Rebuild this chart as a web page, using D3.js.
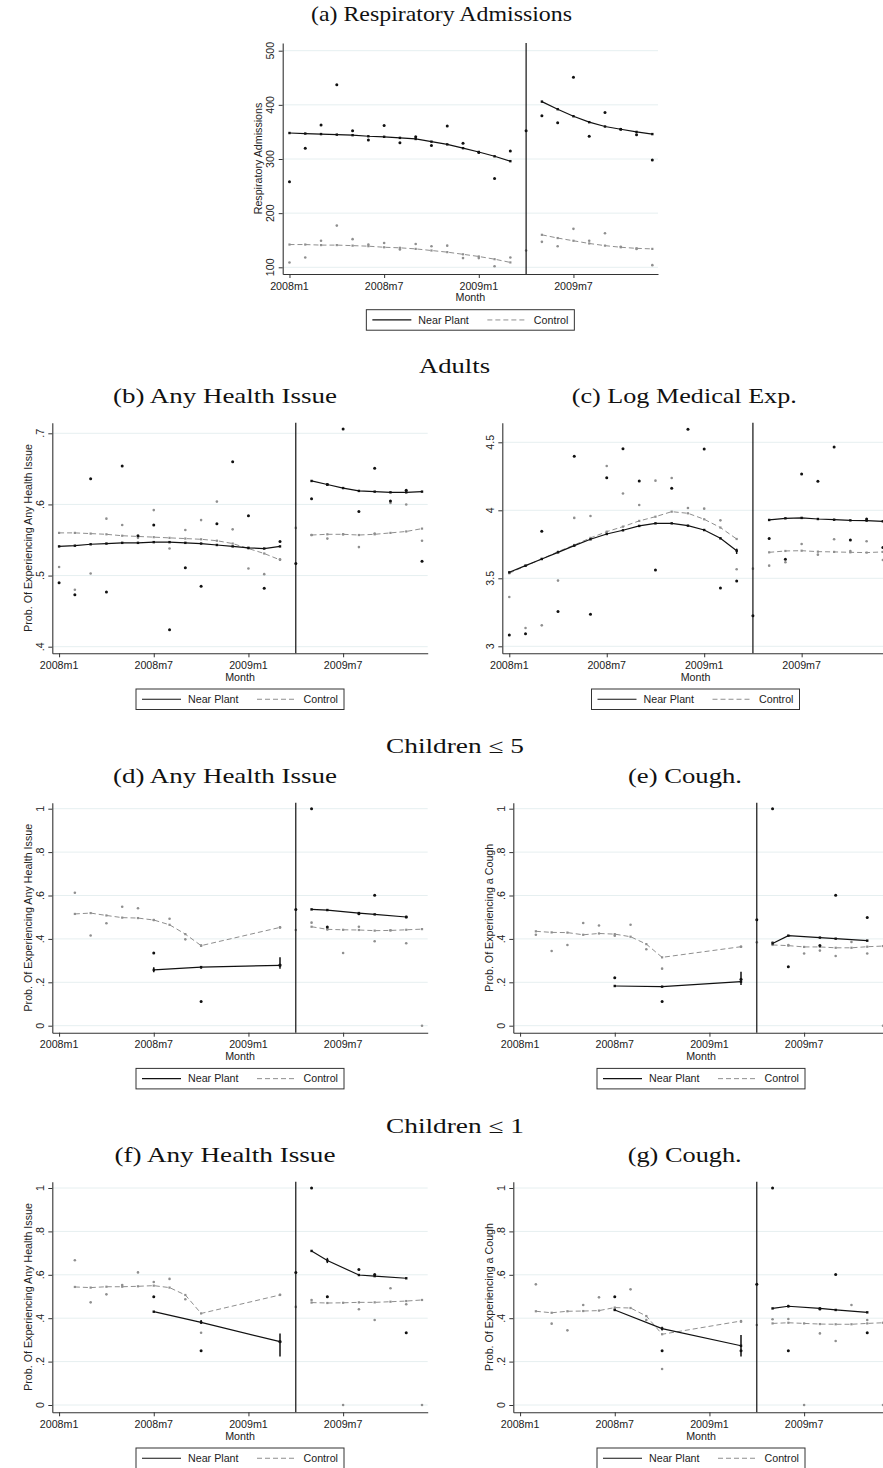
<!DOCTYPE html>
<html><head><meta charset="utf-8">
<script src="https://cdn.jsdelivr.net/npm/d3@7"></script>
<style>body{margin:0;background:#fff}</style>
</head><body>
<svg id="chart" width="883" height="1468"></svg>
<script>
// ---------- DATA ----------
const monthTickValues = [0, 6, 12, 18];
const monthTickLabels = ["2008m1", "2008m7", "2009m1", "2009m7"];
const cutoffMonth = 15;
const N = null;

// (a) Respiratory admissions
const aNear    = [258,320,363,437,352,335,362,330,341,325,361,329,312,264,315,352,380,367,451,342,386,355,345,298];
const aNearFit = [348,347,346,345,344,342,341,339,337,332,327,320,313,305,296,N,406,392,379,368,360,355,350,346];
const aCtrl    = [109,118,149,177,152,142,145,133,143,139,140,117,117,102,118,131,147,139,171,149,163,138,134,104];
const aCtrlFit = [142,142,141,141,140,139,137,136,134,131,128,124,120,115,109,N,160,154,149,144,140,137,135,134];
const aTicks = [100,200,300,400,500];

// (b) Adults any health issue
const bNear    = [.490,.473,.636,.477,.654,.556,.571,.424,.511,.485,.573,.660,.584,.482,.548,.517,.608,.628,.706,.590,.651,.605,.620,.520];
const bNearFit = [.541,.542,.544,.545,.546,.546,.547,.547,.546,.545,.543,.541,.539,.538,.541,N,.633,.628,.623,.619,.618,.617,.617,.618];
const bCtrl    = [.512,.480,.503,.580,.571,.553,.592,.538,.564,.578,.604,.565,.510,.502,.523,.567,.557,.552,.558,.540,.559,.602,.600,.549];
const bCtrlFit = [.560,.560,.559,.558,.556,.555,.554,.553,.552,.551,.549,.545,.538,.531,.522,N,.557,.558,.558,.557,.558,.560,.562,.566];
const bTicks = [.4,.5,.6,.7];

// (c) Adults log medical expenditure
const cNear    = [3.083,3.093,3.846,3.255,4.397,3.235,4.240,4.453,4.216,3.561,4.162,4.596,4.451,3.429,3.480,3.225,3.792,3.640,4.267,4.213,4.466,3.782,3.936,3.726];
const cNearFit = [3.544,3.593,3.642,3.691,3.740,3.787,3.826,3.853,3.885,3.904,3.904,3.887,3.855,3.794,3.703,N,3.929,3.941,3.944,3.936,3.931,3.926,3.924,3.919];
const cCtrl    = [3.363,3.135,3.154,3.483,3.944,3.958,4.326,4.123,4.039,4.218,4.238,4.017,4.012,3.926,3.566,3.571,3.593,3.618,3.752,3.674,3.787,3.700,3.772,3.635];
const cCtrlFit = [3.537,3.591,3.642,3.696,3.745,3.797,3.843,3.880,3.922,3.953,3.990,3.978,3.934,3.873,3.789,N,3.691,3.701,3.703,3.696,3.694,3.691,3.689,3.694];
const cTicks = [3,3.5,4,4.5];
const cBars = [[14,3.679,3.718]];

// (d) Children <=5 any health issue
const dNear    = [N,N,N,N,N,N,.335,N,N,.112,N,N,N,N,.280,.536,1.0,.455,N,.516,.601,N,.501,N];
const dNearFit = [N,N,N,N,N,N,.257,N,N,.270,N,N,N,N,.278,N,.536,.533,N,.519,.513,N,.501,N];
const dCtrl    = [N,.613,.416,.472,.548,.541,.487,.493,.398,.369,N,N,N,N,.453,.441,.475,.444,.335,.456,.389,.440,.380,0];
const dCtrlFit = [N,.515,.519,.508,.498,.496,.487,.465,.422,.369,N,N,N,N,.453,N,.456,.444,.442,.441,.438,.439,.442,.445];
const dBars = [[6,.246,.269],[9,.262,.272],[14,.263,.315]];

// (e) Children <=5 cough
const eNear    = [N,N,N,N,N,N,.221,N,N,.111,N,N,N,N,.214,.488,1.0,.272,N,.370,.601,N,.499,N];
const eNearFit = [N,N,N,N,N,N,.183,N,N,.180,N,N,N,N,.203,N,.379,.415,N,.406,.401,N,.392,N];
const eCtrl    = [N,.419,.344,.372,.473,.462,.415,.465,.352,.263,N,N,N,N,.364,.384,.384,.372,.333,.346,.321,.386,.333,0];
const eCtrlFit = [N,.435,.430,.429,.419,.425,.422,.410,.376,.315,N,N,N,N,.364,N,.372,.369,.363,.363,.359,.359,.364,.367];
const eBars = [[14,.187,.249]];

// (f) Children <=1 any health issue
const fNear    = [N,N,N,N,N,N,.499,N,N,.250,N,N,N,N,.292,.611,1.0,.499,N,.625,.601,N,.333,N];
const fNearFit = [N,N,N,N,N,N,.430,N,N,.381,N,N,N,N,.292,N,.710,.666,N,.599,.594,N,.584,N];
const fCtrl    = [N,.667,.473,.510,.553,.611,.567,.581,.487,.333,N,N,N,N,.508,.452,.484,.499,0,.441,.392,.538,.464,0];
const fCtrlFit = [N,.544,.541,.545,.545,.547,.550,.541,.507,.422,N,N,N,N,.507,N,.472,.470,.471,.473,.473,.476,.479,.484];
const fBars = [[9,.373,.392],[14,.223,.330],[17,.654,.678]];

// (g) Children <=1 cough
const gNear    = [N,N,N,N,N,N,.499,N,N,.250,N,N,N,N,.250,.556,1.0,.250,N,.442,.601,N,.333,N];
const gNearFit = [N,N,N,N,N,N,.438,N,N,.352,N,N,N,N,.273,N,.445,.455,N,.445,.438,N,.427,N];
const gCtrl    = [N,.556,.375,.344,.461,.496,.440,.533,.392,.166,N,N,N,N,.384,.369,.395,.396,0,.330,.295,.461,.392,0];
const gCtrlFit = [N,.432,.425,.432,.433,.435,.449,.447,.410,.326,N,N,N,N,.387,N,.376,.379,.376,.373,.372,.372,.376,.379];
const gBars = [[9,.343,.361],[14,.223,.323],[17,.450,.462]];

const probTicks = [0,.2,.4,.6,.8,1];

// ---------- LAYOUT ----------
const rows = {
  a:  {top: 43,    bottom: 274},
  bc: {top: 422.7, bottom: 653.3},
  de: {top: 802.7, bottom: 1032.7},
  fg: {top: 1181.7,bottom: 1412.3}
};
const panels = [
  {row: rows.a,  left: 282.7, right: 658,   ticks: aTicks, tickPx: [100,500,267.3,50.7], ytitle: "Respiratory Admissions",
   near: aNear, nearFit: aNearFit, ctrl: aCtrl, ctrlFit: aCtrlFit, bars: []},
  {row: rows.bc, left: 52.3,  right: 427.7, ticks: bTicks, tickPx: [.4,.7,646.7,433.3], ytitle: "Prob. Of Experiencing Any Health Issue",
   near: bNear, nearFit: bNearFit, ctrl: bCtrl, ctrlFit: bCtrlFit, bars: []},
  {row: rows.bc, left: 502.3, right: 888.7, ticks: cTicks, tickPx: [3,4.5,646.3,442.3], ytitle: null,
   near: cNear, nearFit: cNearFit, ctrl: cCtrl, ctrlFit: cCtrlFit, bars: cBars},
  {row: rows.de, left: 52.3,  right: 427.7, ticks: probTicks, tickPx: [0,1,1025.7,808.7], ytitle: "Prob. Of Experiencing Any Health Issue",
   near: dNear, nearFit: dNearFit, ctrl: dCtrl, ctrlFit: dCtrlFit, bars: dBars},
  {row: rows.de, left: 513.3, right: 888.7, ticks: probTicks, tickPx: [0,1,1025.7,808.7], ytitle: "Prob. Of Experiencing a Cough",
   near: eNear, nearFit: eNearFit, ctrl: eCtrl, ctrlFit: eCtrlFit, bars: eBars},
  {row: rows.fg, left: 52.3,  right: 427.7, ticks: probTicks, tickPx: [0,1,1405,1188], ytitle: "Prob. Of Experiencing Any Health Issue",
   near: fNear, nearFit: fNearFit, ctrl: fCtrl, ctrlFit: fCtrlFit, bars: fBars},
  {row: rows.fg, left: 513.3, right: 888.7, ticks: probTicks, tickPx: [0,1,1405,1188], ytitle: "Prob. Of Experiencing a Cough",
   near: gNear, nearFit: gNearFit, ctrl: gCtrl, ctrlFit: gCtrlFit, bars: gBars}
];
const titles = [
  {text: "(a) Respiratory Admissions", x: 441.5, y: 21,    w: 261, size: 21},
  {text: "Adults",                     x: 454.5, y: 373,   w: 71,  size: 20},
  {text: "(b) Any Health Issue",       x: 225,   y: 403,   w: 224, size: 21},
  {text: "(c) Log Medical Exp.",       x: 684.3, y: 403,   w: 225, size: 21},
  {text: "Children \u2264 5",          x: 455,   y: 753,   w: 138, size: 20},
  {text: "(d) Any Health Issue",       x: 225,   y: 783,   w: 224, size: 21},
  {text: "(e) Cough.",                 x: 685,   y: 783,   w: 114, size: 21},
  {text: "Children \u2264 1",          x: 455,   y: 1132.5,w: 138, size: 20},
  {text: "(f) Any Health Issue",       x: 225,   y: 1162,  w: 221, size: 21},
  {text: "(g) Cough.",                 x: 684.7, y: 1162,  w: 114, size: 21}
];

const SANS = "'Liberation Sans', Arial, sans-serif";
const SERIF = "'Liberation Serif', 'DejaVu Serif', serif";
const FS = 10.7;
const NEAR_COL = "#111";
const CTRL_COL = "#8f8f8f";
const fmt = d => d === 0 ? "0" : String(d).replace(/^0\./, ".");

const svg = d3.select("#chart");

titles.forEach(t => {
  svg.append("text").attr("x", t.x).attr("y", t.y).attr("text-anchor", "middle")
    .attr("font-family", SERIF).attr("font-size", t.size).attr("fill", "#111")
    .attr("textLength", t.w).attr("lengthAdjust", "spacingAndGlyphs").text(t.text);
});

panels.forEach(p => {
  const top = p.row.top, bottom = p.row.bottom;
  const x = d3.scaleLinear().domain([-0.43, 23.36]).range([p.left, p.right]);
  const y0 = d3.scaleLinear().domain([p.tickPx[0], p.tickPx[1]]).range([p.tickPx[2], p.tickPx[3]]);
  const y = d3.scaleLinear().domain([y0.invert(bottom), y0.invert(top)]).range([bottom, top]);
  const g = svg.append("g");

  // gridlines
  g.selectAll("line.grid").data(p.ticks).join("line")
    .attr("x1", p.left).attr("x2", p.right)
    .attr("y1", d => y(d)).attr("y2", d => y(d))
    .attr("stroke", "#e6eff0").attr("stroke-width", 1);

  const seg = (arr, pre) => arr.map((v, i) => ({m: i, v}))
    .filter(d => d.v !== null && (pre ? d.m < cutoffMonth : d.m > cutoffMonth));
  const line = d3.line().x(d => x(d.m)).y(d => y(d.v));

  // control
  [true, false].forEach(pre => {
    const s = seg(p.ctrlFit, pre);
    g.append("path").attr("d", line(s)).attr("fill", "none")
      .attr("stroke", CTRL_COL).attr("stroke-width", 1).attr("stroke-dasharray", "5,3");
    g.selectAll(null).data(s).join("rect")
      .attr("x", d => x(d.m) - 1.1).attr("y", d => y(d.v) - 1.1).attr("width", 2.2).attr("height", 2.2)
      .attr("fill", CTRL_COL);
  });
  g.selectAll(null).data(p.ctrl.map((v, i) => ({m: i, v})).filter(d => d.v !== null)).join("circle")
    .attr("cx", d => x(d.m)).attr("cy", d => y(d.v)).attr("r", 1.3).attr("fill", CTRL_COL);

  // near plant
  [true, false].forEach(pre => {
    const s = seg(p.nearFit, pre);
    g.append("path").attr("d", line(s)).attr("fill", "none")
      .attr("stroke", NEAR_COL).attr("stroke-width", 1.2);
    g.selectAll(null).data(s).join("rect")
      .attr("x", d => x(d.m) - 1.2).attr("y", d => y(d.v) - 1.2).attr("width", 2.4).attr("height", 2.4)
      .attr("fill", NEAR_COL);
  });
  g.selectAll(null).data(p.bars).join("line")
    .attr("x1", d => x(d[0])).attr("x2", d => x(d[0]))
    .attr("y1", d => y(d[1])).attr("y2", d => y(d[2]))
    .attr("stroke", NEAR_COL).attr("stroke-width", 1.5);
  g.selectAll(null).data(p.near.map((v, i) => ({m: i, v})).filter(d => d.v !== null)).join("circle")
    .attr("cx", d => x(d.m)).attr("cy", d => y(d.v)).attr("r", 1.5).attr("fill", NEAR_COL);

  // cutoff line
  g.append("line").attr("x1", x(cutoffMonth)).attr("x2", x(cutoffMonth))
    .attr("y1", top).attr("y2", bottom).attr("stroke", "#111").attr("stroke-width", 1.2);

  // axes
  const ya = g.append("g").attr("transform", `translate(${p.left},0)`)
    .call(d3.axisLeft(y).tickValues(p.ticks).tickSize(4).tickSizeOuter(0).tickFormat(""));
  const xa = g.append("g").attr("transform", `translate(0,${bottom})`)
    .call(d3.axisBottom(x).tickValues(monthTickValues).tickSize(4).tickSizeOuter(0).tickFormat(""));
  [ya, xa].forEach(a => {
    a.select(".domain").attr("stroke", "#333").attr("stroke-width", 1.1);
    a.selectAll(".tick line").attr("stroke", "#333");
  });

  // y tick labels (rotated)
  g.selectAll(null).data(p.ticks).join("text")
    .attr("transform", d => `translate(${p.left - 12},${y(d)}) rotate(-90)`)
    .attr("text-anchor", "middle").attr("dy", "0.35em")
    .attr("font-family", SANS).attr("font-size", FS).attr("fill", "#222").text(fmt);
  // x tick labels
  g.selectAll(null).data(monthTickValues).join("text")
    .attr("x", d => x(d)).attr("y", bottom + 15.6).attr("text-anchor", "middle")
    .attr("font-family", SANS).attr("font-size", FS).attr("fill", "#222")
    .text((d, i) => monthTickLabels[i]);
  const cx = (p.left + p.right) / 2;
  g.append("text").attr("x", cx).attr("y", bottom + 27.2).attr("text-anchor", "middle")
    .attr("font-family", SANS).attr("font-size", FS).attr("fill", "#222").text("Month");
  if (p.ytitle) {
    g.append("text").attr("transform", `translate(${p.left - 24.5},${(top + bottom) / 2}) rotate(-90)`)
      .attr("text-anchor", "middle").attr("dy", "0.35em")
      .attr("font-family", SANS).attr("font-size", FS).attr("fill", "#222").text(p.ytitle);
  }

  // legend
  const L = cx - 104, T = bottom + 35.7, H = 20.5, mid = T + H / 2;
  g.append("rect").attr("x", L).attr("y", T).attr("width", 208).attr("height", H)
    .attr("fill", "#fff").attr("stroke", "#333").attr("stroke-width", 1);
  g.append("line").attr("x1", L + 6).attr("x2", L + 45).attr("y1", mid).attr("y2", mid)
    .attr("stroke", NEAR_COL).attr("stroke-width", 1.2);
  g.append("text").attr("x", L + 52).attr("y", mid).attr("dy", "0.35em")
    .attr("font-family", SANS).attr("font-size", FS).attr("fill", "#222").text("Near Plant");
  g.append("line").attr("x1", L + 121).attr("x2", L + 161).attr("y1", mid).attr("y2", mid)
    .attr("stroke", CTRL_COL).attr("stroke-width", 1).attr("stroke-dasharray", "5,3");
  g.append("text").attr("x", L + 167.5).attr("y", mid).attr("dy", "0.35em")
    .attr("font-family", SANS).attr("font-size", FS).attr("fill", "#222").text("Control");
});
</script>
</body></html>
